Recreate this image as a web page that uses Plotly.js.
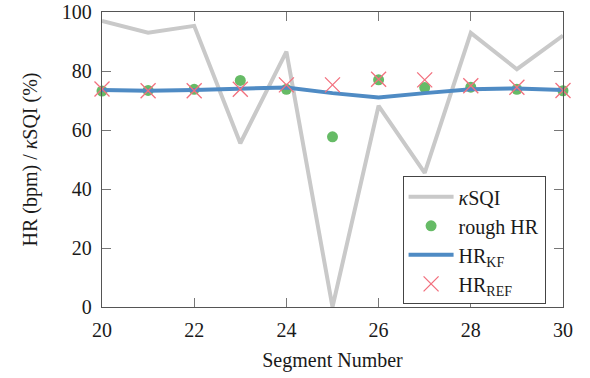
<!DOCTYPE html>
<html>
<head>
<meta charset="utf-8">
<script src="https://cdn.plot.ly/plotly-3.0.1.min.js"></script>
<style>
html,body{margin:0;padding:0;background:#fff;}
#chart{width:590px;height:378px;}
</style>
</head>
<body>
<div id="chart"></div>
<script>
var segments = [20, 21, 22, 23, 24, 25, 26, 27, 28, 29, 30];
var kappaSQI = [97.0, 93.0, 95.3, 55.5, 86.6, 0.0, 68.2, 45.5, 92.9, 80.6, 92.0];
var roughHR  = [73.2, 73.4, 73.8, 76.8, 73.8, 57.7, 77.0, 74.4, 74.5, 73.8, 73.3];
var hrKF     = [73.6, 73.3, 73.6, 73.9, 74.4, 72.5, 71.0, 72.5, 73.8, 74.1, 73.6];
var hrREF    = [73.9, 73.3, 73.3, 73.8, 75.3, 75.3, 77.2, 77.0, 75.0, 74.5, 73.4];
var xTicks = [20, 22, 24, 26, 28, 30];
var yTicks = [0, 20, 40, 60, 80, 100];

function F(size) { return {family: 'Liberation Serif', size: size || 20, color: '#1a1a1a'}; }

var traces = [
  {x: segments, y: kappaSQI, type: 'scatter', mode: 'lines', name: '<i>κ</i>SQI',
   line: {color: '#c9c9c9', width: 4}, cliponaxis: false},
  {x: segments, y: roughHR, type: 'scatter', mode: 'markers', name: 'rough HR',
   marker: {color: '#66bb66', size: 11, symbol: 'circle'}, cliponaxis: false},
  {x: segments, y: hrKF, type: 'scatter', mode: 'lines', name: 'HR<sub>KF</sub>',
   line: {color: '#4f8bc4', width: 4}, cliponaxis: false},
  {x: segments, y: hrREF, type: 'scatter', mode: 'markers', name: 'HR<sub>REF</sub>',
   marker: {color: '#f2707e', size: 15, symbol: 'x-thin-open', line: {color: '#f2707e', width: 1.3}}, cliponaxis: false}
];

function axis(extra) {
  var a = {
    showline: true, linecolor: '#555', linewidth: 1.2, mirror: 'allticks',
    ticks: 'inside', ticklen: 9, tickcolor: '#777', tickwidth: 1,
    showgrid: false, zeroline: false, tickfont: F(20), ticklabelstandoff: 5
  };
  for (var k in extra) a[k] = extra[k];
  return a;
}

var layout = {
  width: 590, height: 378,
  margin: {l: 102, r: 27, t: 12, b: 71},
  paper_bgcolor: '#fff', plot_bgcolor: '#fff',
  font: F(20),
  showlegend: true,
  xaxis: axis({
    range: [20, 30], tickvals: xTicks, ticktext: xTicks.map(String),
    title: {text: 'Segment Number', font: F(20), standoff: 12}
  }),
  yaxis: axis({
    range: [0, 100], tickvals: yTicks, ticktext: yTicks.map(String),
    title: {text: 'HR (bpm) / <i>κ</i>SQI (%)', font: F(20), standoff: 18}
  }),
  legend: {
    x: 0.652, y: 0.009, xanchor: 'left', yanchor: 'bottom',
    bgcolor: '#fff', bordercolor: '#444', borderwidth: 1,
    font: F(20), itemwidth: 45, tracegroupgap: 0
  }
};

Plotly.newPlot('chart', traces, layout, {displayModeBar: false, staticPlot: true});
</script>
</body>
</html>
